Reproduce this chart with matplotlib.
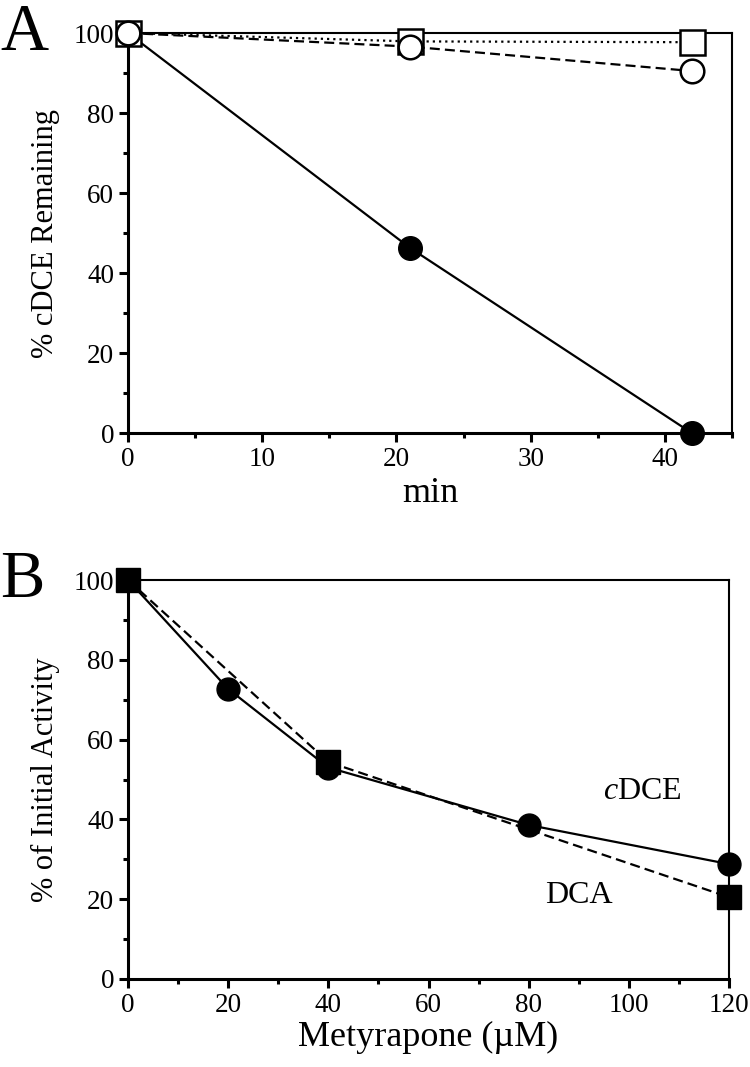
import matplotlib
matplotlib.use("Agg")
import matplotlib.pyplot as plt
from matplotlib.ticker import MultipleLocator

plt.rcParams['font.family'] = ['Liberation Serif', 'DejaVu Serif']
plt.rcParams['mathtext.fontset'] = 'custom'
plt.rcParams['mathtext.rm'] = 'Liberation Serif'
plt.rcParams['mathtext.it'] = 'Liberation Serif:italic'

# Panel A data
time_min = [0, 21, 42]
cdce_active = [100, 46.3, 0]          # filled circles, solid
cdce_ctrl_circle = [100, 96.6, 90.5]  # open circles, dashed
cdce_ctrl_square = [100, 97.9, 97.7]  # open squares, dotted

# Panel B data
metyrapone_c = [0, 20, 40, 80, 120]
cdce_activity = [100, 72.7, 53, 38.6, 28.8]
metyrapone_s = [0, 40, 120]
dca_activity = [100, 54.4, 20.5]

fig = plt.figure(figsize=(7.5, 10.67), dpi=100)
axA = fig.add_axes([128/750, 1-433/1067, 604/750, 400/1067])
axB = fig.add_axes([128/750, 1-979/1067, 601/750, 399/1067])

def style(ax):
    for s in ['left', 'bottom']:
        ax.spines[s].set_linewidth(2.2)
    for s in ['top', 'right']:
        ax.spines[s].set_linewidth(1.5)
    ax.tick_params(which='major', direction='out', length=6.5, width=2.2,
                   labelsize=19.5, pad=3.5)
    ax.tick_params(which='minor', direction='out', length=3.6, width=2.2)
    ax.tick_params(top=False, right=False, which='both')

lw = 1.6
# Panel A
axA.plot(time_min, cdce_active, ls='-', color='black', lw=lw, marker='o',
         ms=17, mfc='black', mec='black', clip_on=False, zorder=3)
axA.plot(time_min, cdce_ctrl_square, color='black', lw=lw, marker='s',
         ms=18, mfc='white', mec='black', mew=1.8, clip_on=False, zorder=4,
         ls=(0, (1.0, 1.8)))
axA.plot(time_min, cdce_ctrl_circle, color='black', lw=lw, marker='o',
         ms=17, mfc='white', mec='black', mew=1.8, clip_on=False, zorder=5,
         ls=(0, (4.5, 2.3)))
axA.set_xlim(0, 45)
axA.set_ylim(0, 100)
axA.xaxis.set_major_locator(MultipleLocator(10))
axA.xaxis.set_minor_locator(MultipleLocator(5))
axA.yaxis.set_major_locator(MultipleLocator(20))
axA.yaxis.set_minor_locator(MultipleLocator(10))
style(axA)
axA.set_xlabel('min', fontsize=26, labelpad=4)
axA.set_ylabel('% cDCE Remaining', fontsize=22, labelpad=10)
fig.text(0.0, 1-50/1067, 'A', fontsize=48, ha='left', va='baseline')

# Panel B
axB.plot(metyrapone_c, cdce_activity, ls='-', color='black', lw=lw, marker='o',
         ms=16.5, mfc='black', mec='black', clip_on=False, zorder=3)
axB.plot(metyrapone_s, dca_activity, color='black', lw=lw, marker='s',
         ms=17, mfc='black', mec='black', clip_on=False, zorder=4,
         ls=(0, (4.5, 2.3)))
axB.set_xlim(0, 120)
axB.set_ylim(0, 100)
axB.xaxis.set_major_locator(MultipleLocator(20))
axB.xaxis.set_minor_locator(MultipleLocator(10))
axB.yaxis.set_major_locator(MultipleLocator(20))
axB.yaxis.set_minor_locator(MultipleLocator(10))
style(axB)
axB.set_xlabel('Metyrapone (\u00b5M)', fontsize=26, labelpad=2)
axB.set_ylabel('% of Initial Activity', fontsize=22, labelpad=10)
axB.text(94.8, 47, '$\\mathit{c}$DCE', fontsize=23, ha='left', va='center')
axB.text(83.2, 21, 'DCA', fontsize=23, ha='left', va='center')
fig.text(0.0, 1-597/1067, 'B', fontsize=48, ha='left', va='baseline')

fig.savefig('out.png', dpi=100)
